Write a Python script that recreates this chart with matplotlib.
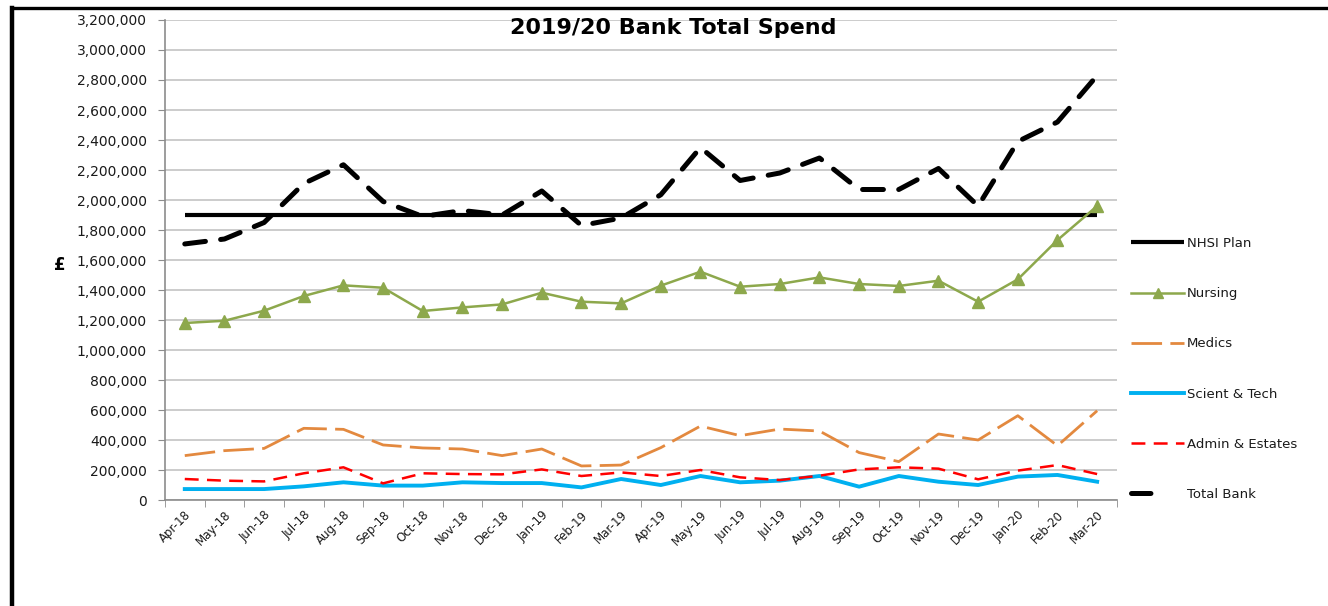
import matplotlib
matplotlib.use("Agg")
import matplotlib.pyplot as plt
from matplotlib.ticker import FuncFormatter, FixedLocator
from matplotlib.lines import Line2D

months = ["Apr-18", "May-18", "Jun-18", "Jul-18", "Aug-18", "Sep-18", "Oct-18", "Nov-18",
          "Dec-18", "Jan-19", "Feb-19", "Mar-19", "Apr-19", "May-19", "Jun-19", "Jul-19",
          "Aug-19", "Sep-19", "Oct-19", "Nov-19", "Dec-19", "Jan-20", "Feb-20", "Mar-20"]

nhsi_plan = [1900000] * 24

nursing = [1180000, 1195000, 1262000, 1360000, 1431000, 1415000, 1260000, 1284000,
           1304000, 1382000, 1322000, 1311000, 1429000, 1522000, 1422000, 1440000,
           1484000, 1440000, 1427000, 1462000, 1322000, 1471000, 1733000, 1960000]

medics = [296000, 329000, 344000, 478000, 471000, 367000, 347000, 340000,
          296000, 340000, 227000, 233000, 349000, 493000, 429000, 473000,
          460000, 316000, 256000, 440000, 400000, 562000, 362000, 595000]

scient_tech = [73000, 73000, 73000, 91000, 118000, 96000, 96000, 118000,
               113000, 113000, 84000, 140000, 100000, 160000, 118000, 129000,
               160000, 89000, 160000, 122000, 100000, 156000, 167000, 122000]

admin_estates = [140000, 129000, 124000, 178000, 218000, 111000, 178000, 173000,
                 171000, 204000, 160000, 184000, 160000, 200000, 151000, 133000,
                 162000, 204000, 218000, 209000, 138000, 196000, 233000, 173000]

total_bank = [1707000, 1740000, 1850000, 2110000, 2235000, 1990000, 1890000, 1930000,
              1900000, 2060000, 1830000, 1880000, 2035000, 2350000, 2130000, 2180000,
              2280000, 2070000, 2070000, 2210000, 1960000, 2390000, 2520000, 2830000]

y_ticks = list(range(0, 3200001, 200000))

plt.rcParams["lines.scale_dashes"] = False

fig = plt.figure(figsize=(13.28, 6.06), dpi=100)
ax = fig.add_axes([0.1242, 0.1749, 0.7169, 0.7921])

x = list(range(len(months)))

ax.plot(x, nhsi_plan, color="black", lw=3.0, solid_capstyle="butt", label="NHSI Plan")
ax.plot(x, nursing, color="#8DA84C", lw=1.8, marker="^", markersize=9,
        markeredgecolor="#8DA84C", markerfacecolor="#8DA84C", label="Nursing")
ax.plot(x, medics, color="#E3893F", lw=2.0, dashes=(22, 6), label="Medics")
ax.plot(x, scient_tech, color="#00B0F0", lw=2.8, label="Scient & Tech")
ax.plot(x, admin_estates, color="#FF0000", lw=1.8, dashes=(10, 6), label="Admin & Estates")
ax.plot(x, total_bank, color="black", lw=3.6, dashes=(15, 11),
        dash_capstyle="round", label="Total Bank")

ax.set_xlim(-0.5, len(months) - 0.5)
ax.set_ylim(0, 3200000)
ax.set_yticks(y_ticks)
ax.yaxis.set_major_formatter(FuncFormatter(lambda v, p: f"{v:,.0f}"))
ax.grid(axis="y", color="#C4C4C4", lw=1.2)
ax.set_axisbelow(True)

ax.set_xticks(x)
ax.set_xticklabels(months, rotation=45, ha="right", rotation_mode="anchor",
                   fontsize=8.5, color="#1a1a1a")
ax.xaxis.set_minor_locator(FixedLocator([i - 0.5 for i in range(len(months) + 1)]))
ax.tick_params(axis="x", which="major", length=0, pad=6)
ax.tick_params(axis="x", which="minor", length=5, color="#8C8C8C", direction="out")
ax.tick_params(axis="y", length=5, color="#8C8C8C", direction="out", pad=8,
               labelsize=10, labelcolor="#1a1a1a")

for side in ("top", "right"):
    ax.spines[side].set_visible(False)
for side in ("left", "bottom"):
    ax.spines[side].set_color("#8C8C8C")
    ax.spines[side].set_linewidth(1.2)

fig.text(0.507, 0.954, "2019/20 Bank Total Spend", ha="center", va="center",
         fontsize=16, fontweight="bold", color="black")
fig.text(0.045, 0.563, "£", ha="center", va="center", fontsize=12,
         fontweight="bold", color="black")

leg = fig.legend(loc="upper left", bbox_to_anchor=(0.852, 0.609), frameon=False,
                 fontsize=9.5, handlelength=3.95, handletextpad=0.25,
                 labelspacing=2.82, borderpad=0, borderaxespad=0)
for t in leg.get_texts():
    t.set_color("#1a1a1a")
handles = leg.legend_handles
handles[1].set_markersize(7)
handles[5].set_dashes((14, 40))

# chart frame along the top and left edges
fig.add_artist(Line2D([0.0090, 0.0090], [0.0, 0.986], transform=fig.transFigure,
                      color="black", lw=3.2, solid_capstyle="projecting"))
fig.add_artist(Line2D([0.0090, 1.0], [0.986, 0.986], transform=fig.transFigure,
                      color="black", lw=2.4, solid_capstyle="projecting"))

fig.savefig("out.png", dpi=100)
